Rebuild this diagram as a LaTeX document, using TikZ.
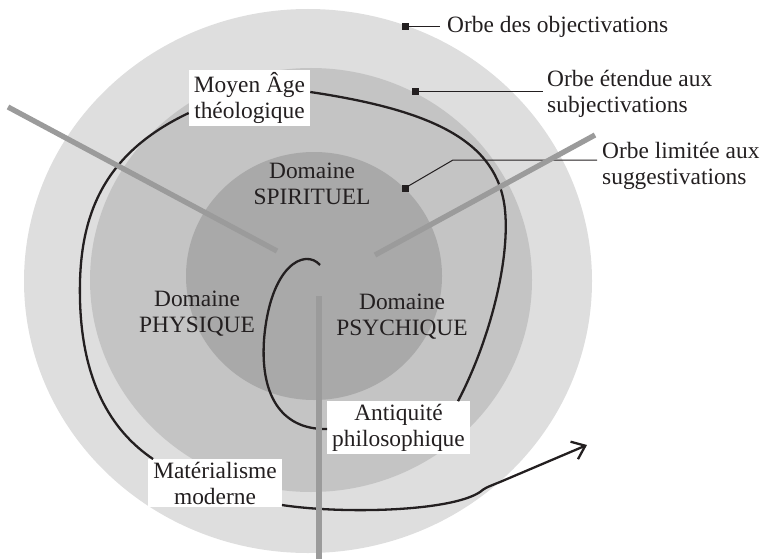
\documentclass[tikz,border=0pt]{standalone}
\usepackage{fontspec}
\setmainfont{Liberation Serif}
\usetikzlibrary{arrows.meta}
\definecolor{orbA}{HTML}{DEDEDE}
\definecolor{orbB}{HTML}{C4C4C4}
\definecolor{orbC}{HTML}{A9A9A9}
\definecolor{axisc}{HTML}{9B9B9B}
\definecolor{textc}{HTML}{231F20}
\begin{document}
\begin{tikzpicture}[x=1pt,y=-1pt,
  txt/.style={font=\fontsize{23.4}{26}\selectfont, text=textc, align=center, inner sep=0pt},
  lbl/.style={txt, fill=white, inner xsep=5pt, inner ysep=2.5pt},
  spiral/.style={line width=2.3pt, textc},
  axisline/.style={line width=5.3pt, axisc},
  lead/.style={line width=1pt, textc},
  sq/.style={rectangle, fill=textc, minimum size=7pt, inner sep=0pt}
]
\useasboundingbox (0,0) rectangle (765,559);
% orbs
\fill[orbA] (308,281) ellipse [x radius=284, y radius=272];
\fill[orbB] (311,280) ellipse [x radius=221, y radius=212];
\fill[orbC] (314,276) ellipse [x radius=128, y radius=124];

% domain texts
\node[txt] (spir) at (312,184) {Domaine\\SPIRITUEL};
\node[txt] (phys) at (197,314) {Domaine\\PHYSIQUE};
\node[txt] (psyc) at (402,317) {Domaine\\PSYCHIQUE};

% era labels
\node[lbl] (moyen) at (249.5,98) {Moyen Âge\\théologique};
\node[lbl] (anti) at (398.5,427.5) {Antiquité\\philosophique};
\node[lbl] (mat) at (215,483) {Matérialisme\\moderne};

% orb labels
\node[sq] (s1) at (405,27) {};
\node[txt, anchor=west] (o1) at (447,27) {Orbe des objectivations};
\node[sq] (s2) at (415,92) {};
\node[txt, anchor=west, align=left] (o2) at (547,94) {Orbe étendue aux\\subjectivations};
\node[sq] (s3) at (405,188) {};
\node[txt, anchor=west, align=left] (o3) at (602,166) {Orbe limitée aux\\suggestivations};
\coordinate (k3) at (453,160);

\draw[lead] (s1.center) -- ([xshift=-7pt]o1.west);
\draw[lead] (s2.center) -- ([xshift=-4pt]o2.west |- s2);
\draw[lead] (s3.center) -- (k3) -- ([xshift=-5pt]o3.west |- k3);

% spiral
\coordinate (spstart) at (320,265);
\coordinate (arrowend) at (587,445);
\draw[spiral] (spstart) .. controls (305,248) and (270,265) .. (264,340)
  .. controls (260,400) and (285,430) .. (anti.west |- 0,429);
\draw[spiral] ([xshift=-12pt]anti.north east) .. controls (490,340) and (510,260) .. (505,210)
  .. controls (498,140) and (430,110) .. ([yshift=6pt]moyen.east);
\draw[spiral] ([yshift=-15pt]moyen.west) .. controls (100,155) and (78,220) .. (80,300)
  .. controls (82,380) and (110,430) .. ([xshift=5pt]mat.north west);
\draw[spiral, -{Straight Barb[length=12pt,width=19pt,line width=2.3pt]}]
  ([yshift=-22pt]mat.east) .. controls (340,514) and (450,512) .. (480,492)
  .. controls (485,488) .. (500,482) -- (arrowend);

% axes
\coordinate (g1a) at (8,107);
\coordinate (g1b) at (277,251);
\coordinate (g2a) at (375,255);
\coordinate (g2b) at (595,135);
\coordinate (g3a) at (319,296);
\coordinate (g3b) at (319,559);
\draw[axisline] (g1a) -- (g1b);
\draw[axisline] (g2a) -- (g2b);
\draw[axisline] (g3a) -- (g3b);
\end{tikzpicture}
\end{document}
